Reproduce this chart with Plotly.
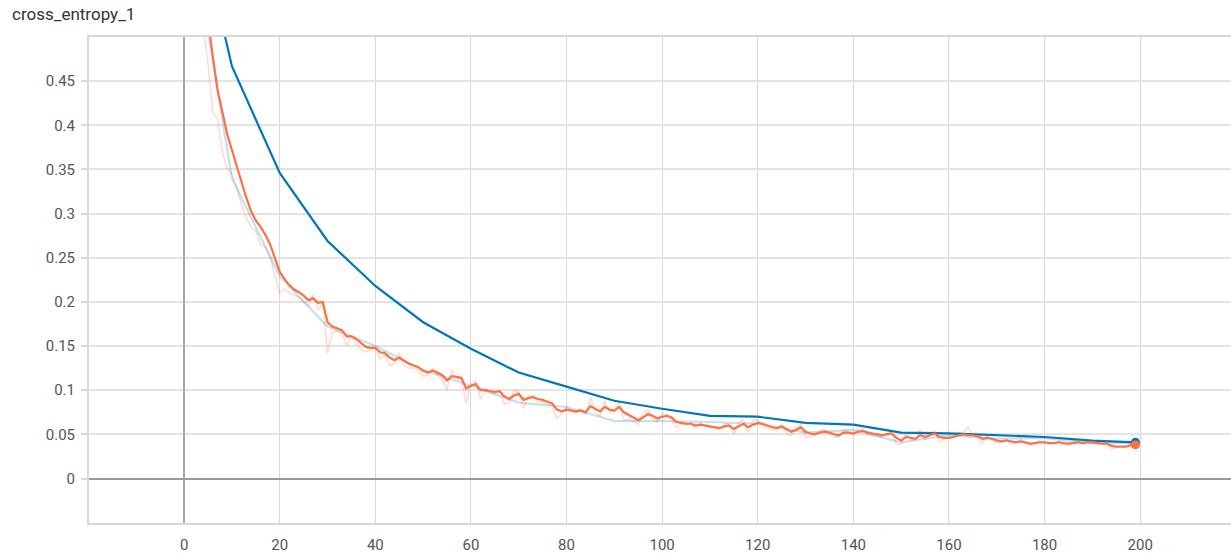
import plotly.graph_objects as go

# ---------------- data ----------------
blue_steps = [0, 10, 20, 30, 40, 50, 60, 70, 80, 90, 100, 110, 120, 130, 140, 150, 160, 170, 180, 190, 199]
blue_smoothed = [0.70, 0.467, 0.346, 0.269, 0.218, 0.177, 0.147, 0.120, 0.104, 0.088, 0.079,
                 0.071, 0.070, 0.063, 0.061, 0.052, 0.051, 0.049, 0.047, 0.043, 0.041]
blue_raw = [0.67, 0.340, 0.229, 0.172, 0.150, 0.123, 0.105, 0.086, 0.081, 0.065, 0.065,
            0.064, 0.062, 0.052, 0.055, 0.041, 0.049, 0.045, 0.046, 0.040, 0.040]

orange_steps = list(range(0, 200))
orange_smoothed = [
    1.00, 0.85, 0.74, 0.65, 0.58, 0.52, 0.478, 0.44, 0.415, 0.39,
    0.372, 0.354, 0.336, 0.318, 0.303, 0.292, 0.285, 0.276, 0.265, 0.25,
    0.234, 0.226, 0.219, 0.214, 0.211, 0.207, 0.202, 0.204, 0.199, 0.200,
    0.177, 0.172, 0.170, 0.168, 0.161, 0.161, 0.158, 0.153, 0.149, 0.148,
    0.148, 0.143, 0.142, 0.137, 0.134, 0.137, 0.133, 0.130, 0.128, 0.126,
    0.122, 0.120, 0.122, 0.120, 0.117, 0.111, 0.116, 0.115, 0.114, 0.102,
    0.105, 0.107, 0.100, 0.100, 0.099, 0.098, 0.099, 0.093, 0.090, 0.094,
    0.096, 0.089, 0.091, 0.092, 0.090, 0.089, 0.087, 0.085, 0.078, 0.076,
    0.078, 0.077, 0.076, 0.077, 0.075, 0.082, 0.079, 0.076, 0.081, 0.078,
    0.077, 0.081, 0.075, 0.072, 0.069, 0.066, 0.069, 0.073, 0.071, 0.068,
    0.070, 0.071, 0.069, 0.064, 0.063, 0.062, 0.062, 0.060, 0.061, 0.060,
    0.059, 0.058, 0.057, 0.059, 0.060, 0.056, 0.059, 0.062, 0.058, 0.061,
    0.063, 0.062, 0.060, 0.058, 0.057, 0.059, 0.056, 0.053, 0.055, 0.058,
    0.053, 0.051, 0.050, 0.052, 0.053, 0.052, 0.050, 0.049, 0.052, 0.052,
    0.051, 0.053, 0.054, 0.052, 0.051, 0.050, 0.049, 0.050, 0.051, 0.046,
    0.043, 0.047, 0.046, 0.045, 0.049, 0.047, 0.049, 0.051, 0.047, 0.046,
    0.046, 0.047, 0.049, 0.050, 0.049, 0.049, 0.048, 0.045, 0.046, 0.045,
    0.043, 0.042, 0.043, 0.042, 0.041, 0.042, 0.041, 0.0395, 0.040, 0.041,
    0.041, 0.040, 0.040, 0.041, 0.040, 0.0395, 0.040, 0.041, 0.040, 0.041,
    0.041, 0.040, 0.0395, 0.0395, 0.037, 0.036, 0.036, 0.036, 0.0375, 0.038,
]
orange_raw = [
    1.00, 0.78, 0.66, 0.58, 0.51, 0.47, 0.414, 0.408, 0.37, 0.35,
    0.345, 0.33, 0.31, 0.295, 0.285, 0.28, 0.265, 0.262, 0.25, 0.23,
    0.21, 0.215, 0.21, 0.208, 0.205, 0.20, 0.195, 0.208, 0.19, 0.20,
    0.142, 0.165, 0.167, 0.165, 0.15, 0.162, 0.153, 0.146, 0.143, 0.147,
    0.147, 0.135, 0.14, 0.128, 0.13, 0.142, 0.128, 0.125, 0.125, 0.123,
    0.116, 0.117, 0.125, 0.117, 0.113, 0.10, 0.123, 0.113, 0.112, 0.085,
    0.108, 0.11, 0.09, 0.10, 0.097, 0.096, 0.10, 0.084, 0.086, 0.10,
    0.098, 0.079, 0.094, 0.093, 0.087, 0.087, 0.084, 0.082, 0.068, 0.073,
    0.081, 0.075, 0.074, 0.079, 0.072, 0.092, 0.075, 0.071, 0.088, 0.074,
    0.076, 0.087, 0.066, 0.067, 0.065, 0.061, 0.074, 0.078, 0.068, 0.064,
    0.073, 0.073, 0.066, 0.057, 0.062, 0.061, 0.062, 0.057, 0.063, 0.059,
    0.058, 0.057, 0.055, 0.062, 0.062, 0.050, 0.063, 0.067, 0.052, 0.066,
    0.066, 0.060, 0.057, 0.055, 0.055, 0.062, 0.051, 0.049, 0.058, 0.062,
    0.046, 0.048, 0.049, 0.055, 0.055, 0.050, 0.047, 0.047, 0.056, 0.052,
    0.049, 0.056, 0.056, 0.049, 0.049, 0.048, 0.047, 0.052, 0.053, 0.039,
    0.038, 0.053, 0.044, 0.044, 0.055, 0.044, 0.052, 0.054, 0.041, 0.045,
    0.046, 0.049, 0.052, 0.052, 0.058, 0.049, 0.046, 0.040, 0.048, 0.043,
    0.040, 0.041, 0.045, 0.040, 0.040, 0.044, 0.040, 0.037, 0.041, 0.042,
    0.041, 0.039, 0.040, 0.043, 0.038, 0.039, 0.041, 0.042, 0.039, 0.042,
    0.041, 0.039, 0.039, 0.040, 0.033, 0.035, 0.036, 0.036, 0.040, 0.039,
]

x_ticks = [0, 20, 40, 60, 80, 100, 120, 140, 160, 180, 200]
x_tick_labels = ["0", "20", "40", "60", "80", "100", "120", "140", "160", "180", "200"]
y_ticks = [0, 0.05, 0.1, 0.15, 0.2, 0.25, 0.3, 0.35, 0.4, 0.45]
y_tick_labels = ["0", "0.05", "0.1", "0.15", "0.2", "0.25", "0.3", "0.35", "0.4", "0.45"]

title_text = "cross_entropy_1"

BLUE = "#0077bb"
ORANGE = "#ff7043"

fig = go.Figure()

# faint raw lines
fig.add_trace(go.Scatter(x=orange_steps, y=orange_raw, mode="lines",
                         line=dict(color=ORANGE, width=1.5), opacity=0.25,
                         hoverinfo="skip", showlegend=False))
fig.add_trace(go.Scatter(x=blue_steps, y=blue_raw, mode="lines",
                         line=dict(color=BLUE, width=2.2), opacity=0.22,
                         hoverinfo="skip", showlegend=False))
# smoothed lines
fig.add_trace(go.Scatter(x=blue_steps, y=blue_smoothed, mode="lines",
                         line=dict(color=BLUE, width=2.2),
                         showlegend=False))
fig.add_trace(go.Scatter(x=orange_steps, y=orange_smoothed, mode="lines",
                         line=dict(color=ORANGE, width=2.2),
                         showlegend=False))
# end markers
fig.add_trace(go.Scatter(x=[blue_steps[-1]], y=[blue_smoothed[-1]], mode="markers",
                         marker=dict(color=BLUE, size=9), showlegend=False))
fig.add_trace(go.Scatter(x=[orange_steps[-1]], y=[orange_smoothed[-1]], mode="markers",
                         marker=dict(color=ORANGE, size=9), showlegend=False))

W, H = 1231, 554
fig.update_layout(
    width=W, height=H,
    margin=dict(l=89, r=0, t=37, b=29),
    paper_bgcolor="white", plot_bgcolor="white",
    font=dict(family="Roboto, Arial, sans-serif", size=15, color="#555555"),
    title=dict(text=title_text, x=12 / W, xanchor="left", y=1 - 14 / H, yanchor="middle",
               font=dict(size=17, color="#333333")),
    showlegend=False,
)
fig.update_xaxes(
    range=[-19.9, 219.0], tickvals=x_ticks, ticktext=x_tick_labels,
    showgrid=True, gridcolor="#d9d9d9", gridwidth=1,
    zeroline=True, zerolinecolor="#a6a6a6", zerolinewidth=2,
    showline=True, linecolor="#d9d9d9", linewidth=2, mirror=True,
    ticks="", ticklabelstandoff=7, tickfont=dict(size=15, color="#555555"),
)
fig.update_yaxes(
    range=[-0.0504, 0.5], tickvals=y_ticks, ticktext=y_tick_labels,
    showgrid=True, gridcolor="#e3e3e3", gridwidth=2,
    zeroline=True, zerolinecolor="#999999", zerolinewidth=1.5,
    showline=True, linecolor="#d9d9d9", linewidth=2,
    ticks="outside", ticklen=6, tickcolor="#d9d9d9", tickwidth=2,
    ticklabelstandoff=3, tickfont=dict(size=15, color="#555555"),
)

# remove the browser's default 8px body margin so the figure fills the window
fig.write_html("out.html", config={"displayModeBar": False},
               post_script="document.body.style.margin='0';document.body.style.overflow='hidden';")
